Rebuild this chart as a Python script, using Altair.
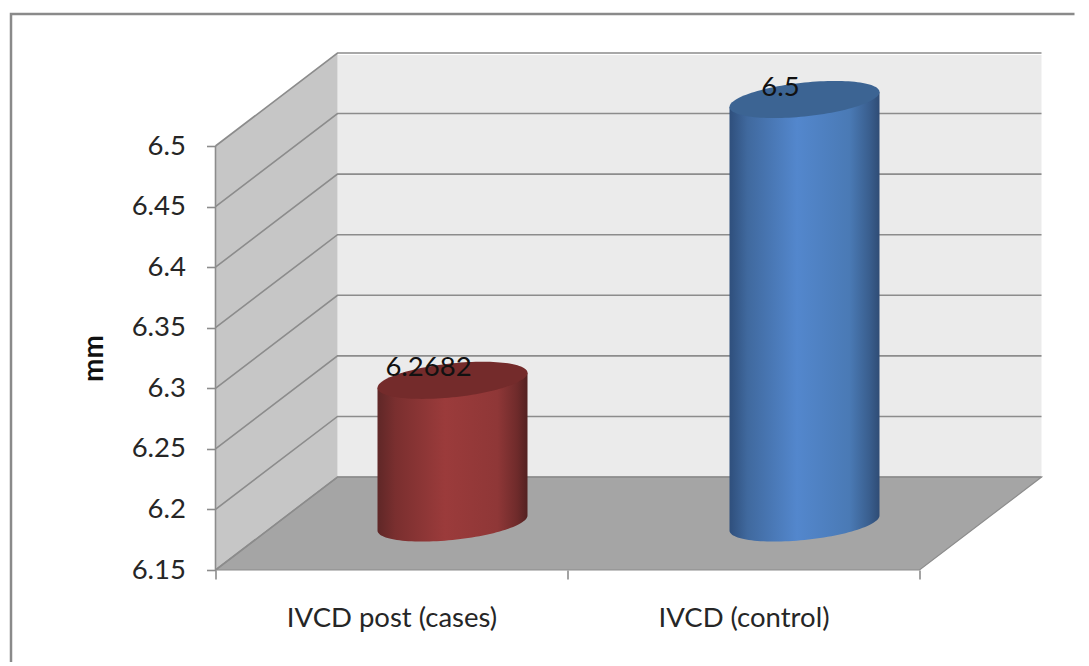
import numpy as np
import pandas as pd
import altair as alt

categories = ["IVCD post (cases)", "IVCD (control)"]
values = [6.2682, 6.5]
value_labels = ["6.2682", "6.5"]
y_ticks = [6.15, 6.2, 6.25, 6.3, 6.35, 6.4, 6.45, 6.5]
body_stops = [
    [(0, "#5f2727"), (0.12, "#7a2f2f"), (0.45, "#9b3b3b"), (0.8, "#8f3737"), (0.93, "#6f2b2b"), (1, "#532121")],
    [(0, "#2f4f7c"), (0.12, "#40699e"), (0.45, "#5387cd"), (0.8, "#4a7ab5"), (0.93, "#3a5f8f"), (1, "#2f4c75")],
]
cap_colors = ["#742b2b", "#3c6493"]

# geometry of the oblique box, in the units of the two scales
Y0, Y1 = 6.15, 6.5
PX_PER_UNIT = 424 / (Y1 - Y0)
WIDTH = 826            # floor plus depth, horizontally
HEIGHT = 515           # wall plus depth, vertically
FRONT = 704            # length of the front edge
DX = WIDTH - FRONT     # depth shift, x
DY_PX = 93             # depth shift, y pixels
DY = DY_PX / PX_PER_UNIT
YTOP = Y0 + HEIGHT / PX_PER_UNIT
px = lambda p: p / PX_PER_UNIT

LINE = "#8c8c8c"
TXT = "#262626"
FONT = "Lato"

x_scale = alt.Scale(domain=[0, WIDTH], nice=False, zero=False)
y_scale = alt.Scale(domain=[Y0, YTOP], nice=False, zero=False)
name_expr = f"datum.value == {FRONT/4} ? '{categories[0]}' : datum.value == {3*FRONT/4} ? '{categories[1]}' : ''"
x_axis = alt.Axis(
    values=[0, FRONT / 4, FRONT / 2, 3 * FRONT / 4, FRONT], labelExpr=name_expr, domain=False, grid=False,
    tickSize=9, tickWidth=1.6, tickColor=LINE,
    tickOpacity={"condition": {"test": f"datum.value == {FRONT/4} || datum.value == {3*FRONT/4}", "value": 0}, "value": 1},
    labelFont=FONT, labelFontSize=27.5, labelColor=TXT, labelPadding=25, labelOverlap=False, labelFlush=False,
    labelLimit=400, title=None)
y_axis = alt.Axis(
    values=y_ticks, labelExpr="format(datum.value, '.2~f')", domain=False, grid=False,
    tickSize=9, tickWidth=1.6, tickColor=LINE,
    labelFont=FONT, labelFontSize=27.5, labelColor=TXT, labelPadding=21, labelOverlap=False,
    title="mm", titleFont=FONT, titleFontSize=28, titleFontWeight="bold", titleColor="#111111",
    titleX=-113, titleY=303, titleBaseline="alphabetic", titleAlign="center", titleAngle=270)
X = lambda: alt.X("x:Q", scale=x_scale, axis=x_axis)
Y = lambda: alt.Y("y:Q", scale=y_scale, axis=y_axis)

# outer frame: only its top and left sides fall inside the picture
frame = alt.Chart(pd.DataFrame({"x": [-204.5, -204.5, 859], "y": [Y0 - px(92), YTOP + px(41), YTOP + px(41)], "o": [0, 1, 2]})).mark_line(
    color="#8a8a8a", strokeWidth=2.5, clip=False).encode(x=X(), y=Y(), order="o:Q")

# walls and floor
back = pd.DataFrame({"x": [DX, WIDTH], "y": [Y0 + DY, Y0 + DY], "y2": [YTOP, YTOP]})
side = pd.DataFrame({"x": [0, DX], "y": [Y0, Y0 + DY], "y2": [Y1, Y1 + DY]})
floor = pd.DataFrame({"x": [0, DX, FRONT, WIDTH],
                      "y": [Y0, Y0, Y0, Y0 + DY],
                      "y2": [Y0, Y0 + DY, Y0 + DY, Y0 + DY]})
area = lambda df, color: alt.Chart(df).mark_area(color=color, clip=False, opacity=1, line=False).encode(
    x=X(), y=Y(), y2=alt.Y2("y2:Q"))
walls = [area(back, "#ebebeb"), area(side, "#c6c6c6"), area(floor, "#a5a5a5")]

# gridlines: each tick runs up the side wall and along the back wall
grid_rows = []
for i, t in enumerate(y_ticks):
    grid_rows += [{"g": i, "o": 0, "x": 0, "y": t},
                  {"g": i, "o": 1, "x": DX, "y": t + DY},
                  {"g": i, "o": 2, "x": WIDTH, "y": t + DY}]
grid = alt.Chart(pd.DataFrame(grid_rows)).mark_line(color=LINE, strokeWidth=1.6, clip=False).encode(
    x=X(), y=Y(), detail="g:N", order="o:Q")
floor_edge = alt.Chart(pd.DataFrame({"x": [0, DX, WIDTH, FRONT, 0], "y": [Y0, Y0 + DY, Y0 + DY, Y0, Y0], "o": list(range(5))})).mark_line(
    color=LINE, strokeWidth=1.2, clip=False).encode(x=X(), y=Y(), order="o:Q")
left_axis = alt.Chart(pd.DataFrame({"x": [0, 0], "y": [Y0, Y1], "o": [0, 1]})).mark_line(
    color=LINE, strokeWidth=1.6, clip=False).encode(x=X(), y=Y(), order="o:Q")

# cylinders
RX, TILT, RY = 75, 7.5, 17
centers = [FRONT / 4 + DX / 2, 3 * FRONT / 4 + DX / 2]
t = np.linspace(np.pi, 0, 61)
cyl = []
for cx, v, stops, cap in zip(centers, values, body_stops, cap_colors):
    c, s = np.cos(t), np.sin(t)
    base = Y0 + DY / 2 - px(-0.5)
    top = v + DY / 2
    xs = cx + RX * c
    body = pd.DataFrame({"x": xs,
                         "y": base + px(TILT) * c - px(RY) * s,
                         "y2": top + px(TILT) * c})
    capdf = pd.DataFrame({"x": xs,
                          "y": top + px(TILT) * c - px(RY) * s,
                          "y2": top + px(TILT) * c + px(RY) * s})
    grad = alt.Gradient(gradient="linear", x1=0, x2=1, y1=0, y2=0,
                        stops=[alt.GradientStop(offset=o, color=col) for o, col in stops])
    cyl.append(alt.Chart(body).mark_area(color=grad, opacity=1, clip=False).encode(x=X(), y=Y(), y2=alt.Y2("y2:Q")))
    cyl.append(alt.Chart(capdf).mark_area(color=cap, opacity=1, clip=False).encode(x=X(), y=Y(), y2=alt.Y2("y2:Q")))

# value labels
labels_df = pd.DataFrame({"x": [c - 24 for c in centers], "y": [v + DY / 2 + px(12) for v in values], "t": value_labels})
labels = alt.Chart(labels_df).mark_text(font=FONT, fontSize=27.5, color="#111111", clip=False).encode(
    x=X(), y=Y(), text="t:N")

chart = alt.layer(frame, *walls, grid, floor_edge, left_axis, *cyl, labels).properties(
    width=WIDTH, height=HEIGHT, padding={"left": -2.5, "top": 1, "right": 0, "bottom": 0},
    background="white",
).configure_view(stroke=None)

chart.save("out.html", embed_options={"renderer": "svg", "actions": False})
